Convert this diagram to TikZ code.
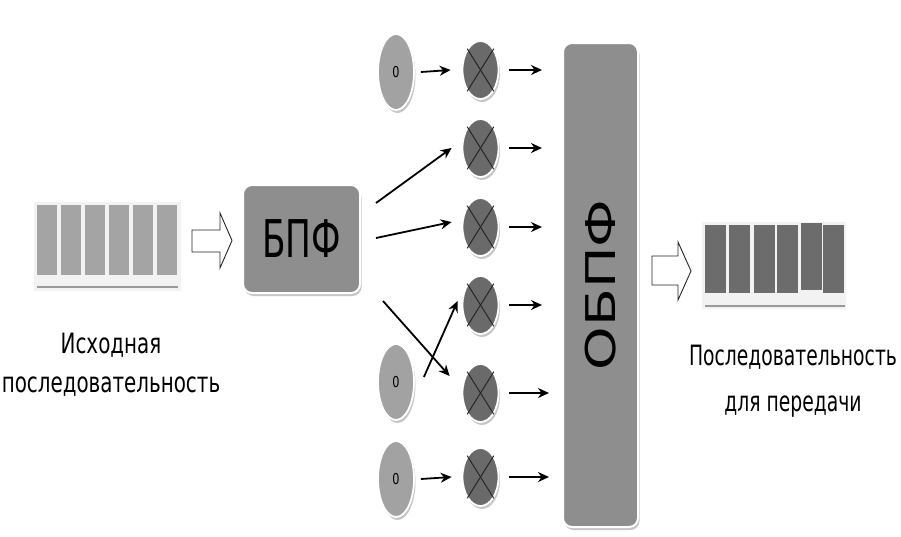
\documentclass[tikz,border=0pt]{standalone}
\usepackage{fontspec}
\setmainfont{DejaVu Sans}
\usepackage{graphicx}
\usetikzlibrary{shapes.geometric,arrows.meta,shadows}
\definecolor{cellL}{HTML}{A4A4A4}
\definecolor{cellR}{HTML}{6C6C6C}
\definecolor{blkfill}{HTML}{8E8E8E}
\definecolor{zerfill}{HTML}{A2A2A2}
\definecolor{mulfill}{HTML}{6A6A6A}
\definecolor{baseln}{HTML}{9A9A9A}
\tikzset{
  arr/.style={-{Stealth[length=11pt,width=10pt]}, line width=1.8pt, black},
  shad/.style={drop shadow={shadow xshift=1.5pt, shadow yshift=-3pt, fill=black!28, opacity=0.8}},
  zer/.style={ellipse, fill=zerfill, draw=white, line width=1.8pt, minimum width=36pt, minimum height=76pt, inner sep=0pt, shad},
  mul/.style={ellipse, fill=mulfill, draw=white, line width=1.8pt, minimum width=36pt, minimum height=58pt, inner sep=0pt, shad},
  blk/.style={rectangle, rounded corners=9pt, fill=blkfill, draw=white, line width=2pt, inner sep=0pt, shad},
  hollow/.style={draw=black!85, fill=white, line width=0.9pt, line join=miter},
  cross/.style={line width=1pt, black!85},
  lbl/.style={align=center, inner sep=0pt},
}
\newcommand{\zr}{\scalebox{0.75}[1]{\fontsize{15}{15}\selectfont 0}}
\newcommand{\nar}[1]{\scalebox{0.71}[1]{#1}}
\newcommand{\narr}[1]{\scalebox{0.67}[1]{#1}}
\begin{document}
\begin{tikzpicture}[x=1pt,y=-1pt]
\useasboundingbox[fill=white] (0,0) rectangle (901,536);

% ---- left sequence
\fill[gray!10] (34,202) rectangle (181,291);
\foreach \a in {37,61,85,109,133,157}
  \fill[cellL] (\a,205) rectangle ++(20,70);
\draw[baseln, line width=2.2pt] (37,287) -- (178,287);
\node[lbl, font=\fontsize{28}{39}\selectfont] (lab1) at (111,365) {\nar{Исходная}\\\nar{последовательность}};

% ---- left hollow arrow
\draw[hollow] (192,230) -- (220,230) -- (220,213) -- (232,240.5) -- (220,268) -- (220,252) -- (192,252) -- cycle;

% ---- FFT block
\node[blk, minimum width=117pt, minimum height=108pt] (bpf) at (301.5,239) {\scalebox{0.66}[1]{\fontsize{52}{52}\selectfont БПФ}};

% ---- zero sources
\node[zer] (z1) at (396,72) {\zr};
\node[zer] (z2) at (396,382) {\zr};
\node[zer] (z3) at (396,479) {\zr};

% ---- multipliers
\foreach \n/\y in {1/70,2/148,3/227,4/305,5/393,6/477}{
  \node[mul] (x\n) at (480.5,\y) {};
  \draw[cross] (x\n.58) -- (x\n.238);
  \draw[cross] (x\n.122) -- (x\n.302);
}

% ---- IFFT block
\node[blk, minimum width=75pt, minimum height=484pt] (obpf) at (600.5,285) {};
\node[rotate=90, inner sep=0pt] (obpft) at (obpf.center) {\scalebox{1.35}[1]{\fontsize{41}{41}\selectfont ОБПФ}};

% ---- connectors
\draw[arr] ([xshift=6pt]z1.east) -- ([xshift=-11pt]x1.west);
\draw[arr] ([xshift=15pt,yshift=36pt]bpf.east) -- ([xshift=-10pt]x2.west);
\draw[arr] ([xshift=15pt,yshift=1pt]bpf.east) -- ([xshift=-10pt,yshift=5pt]x3.west);
\draw[arr] ([xshift=22pt,yshift=-7pt]bpf.south east) -- ([xshift=-12pt,yshift=17pt]x5.west);
\draw[arr] ([xshift=9pt,yshift=5pt]z2.east) -- ([xshift=-4pt,yshift=4pt]x4.west);
\draw[arr] ([xshift=6pt]z3.east) -- ([xshift=-10pt]x6.west);
\foreach \n/\s in {1/20,2/20,3/20,4/20,5/13,6/13}
  \draw[arr, shorten >=\s pt] ([xshift=10pt]x\n.east) -- (x\n -| obpf.west);

% ---- right hollow arrow
\draw[hollow] (652,256) -- (678,256) -- (678,242) -- (691,271) -- (678,300) -- (678,285) -- (652,285) -- cycle;

% ---- right sequence
\fill[gray!10] (702,222) rectangle (846,309);
\foreach \a/\t/\b in {705/225/293,729/225/293,754/225/293,777/225/293,801/223/290,823/225/293}
  \fill[cellR] (\a,\t) rectangle (\a+20.5,\b);
\draw[baseln, line width=2.4pt] (705,306) -- (845,306);
\node[lbl, font=\fontsize{28}{46}\selectfont] (lab2) at (793,381) {\narr{Последовательность}\\\narr{для передачи}};
\end{tikzpicture}
\end{document}
